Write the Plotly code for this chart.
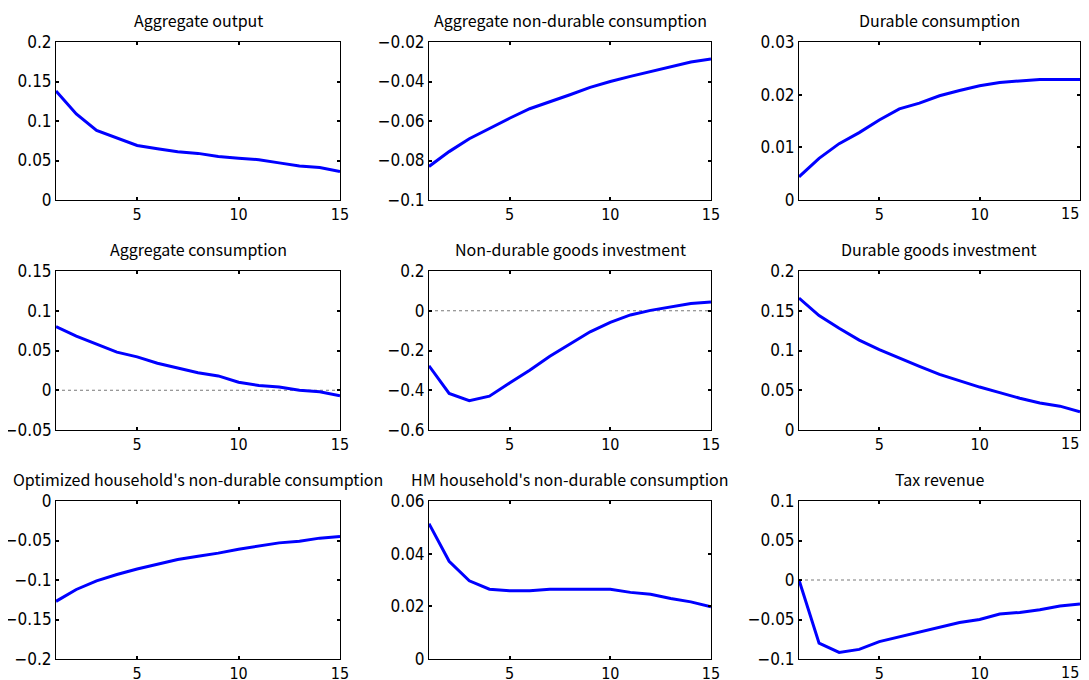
import plotly.graph_objects as go

periods = list(range(1, 16))

titles = [
    "Aggregate output",
    "Aggregate non-durable consumption",
    "Durable consumption",
    "Aggregate consumption",
    "Non-durable goods investment",
    "Durable goods investment",
    "Optimized household's non-durable consumption",
    "HM household's non-durable consumption",
    "Tax revenue",
]

aggregate_output = [0.138, 0.109, 0.088, 0.078, 0.069, 0.065, 0.061, 0.059, 0.055, 0.053, 0.051, 0.047, 0.043, 0.041, 0.036]
agg_nondurable_cons = [-0.083, -0.0755, -0.069, -0.0636, -0.0586, -0.0538, -0.0504, -0.0467, -0.043, -0.040, -0.0374, -0.0349, -0.0327, -0.0301, -0.0286]
durable_cons = [0.0044, 0.0079, 0.0107, 0.0128, 0.0152, 0.0173, 0.0184, 0.0198, 0.0208, 0.0217, 0.0223, 0.0226, 0.0229, 0.0229, 0.0229]
aggregate_cons = [0.080, 0.068, 0.058, 0.048, 0.042, 0.034, 0.028, 0.022, 0.018, 0.010, 0.006, 0.004, 0.0, -0.002, -0.007]
nondurable_inv = [-0.277, -0.416, -0.453, -0.430, -0.364, -0.299, -0.229, -0.166, -0.106, -0.058, -0.021, 0.002, 0.019, 0.036, 0.044]
durable_inv = [0.166, 0.144, 0.128, 0.113, 0.101, 0.090, 0.080, 0.070, 0.062, 0.054, 0.047, 0.040, 0.034, 0.030, 0.023]
opt_hh_nondurable = [-0.127, -0.112, -0.101, -0.093, -0.086, -0.080, -0.074, -0.070, -0.066, -0.061, -0.057, -0.053, -0.051, -0.047, -0.045]
hm_hh_nondurable = [0.0514, 0.0371, 0.0297, 0.0265, 0.0259, 0.0259, 0.0265, 0.0265, 0.0265, 0.0265, 0.0253, 0.0246, 0.0230, 0.0217, 0.0198]
tax_revenue = [0.0, -0.080, -0.0916, -0.0878, -0.078, -0.0718, -0.066, -0.060, -0.0537, -0.050, -0.043, -0.041, -0.0377, -0.033, -0.0305]

series = [aggregate_output, agg_nondurable_cons, durable_cons, aggregate_cons, nondurable_inv,
          durable_inv, opt_hh_nondurable, hm_hh_nondurable, tax_revenue]

y_ranges = [[0, 0.2], [-0.1, -0.02], [0, 0.03], [-0.05, 0.15], [-0.6, 0.2],
            [0, 0.2], [-0.2, 0], [0, 0.06], [-0.1, 0.1]]
y_dticks = [0.05, 0.02, 0.01, 0.05, 0.2, 0.05, 0.05, 0.02, 0.05]
zero_line = [False, False, False, True, True, False, False, False, True]
x_ticks = [5, 10, 15]
x_tick_text = ["5", "10", "15"]

# page body margin offsets the figure by 8 px
PAGE_OFF = 8
W, H = 1089, 680 - PAGE_OFF
# panel boxes in window pixels (left, right) and (top, bottom)
col_px = [(56, 340), (429, 711), (799, 1080)]
row_px = [(42, 200), (271, 430), (501, 659)]

TICK_FONT = "Liberation Sans Narrow, DejaVu Sans Condensed, Noto Sans CJK JP"
TITLE_FONT = "Noto Sans CJK JP"
fig = go.Figure()

for i in range(9):
    r, c = divmod(i, 3)
    n = i + 1
    xa = "xaxis" if n == 1 else f"xaxis{n}"
    ya = "yaxis" if n == 1 else f"yaxis{n}"
    xr = "x" if n == 1 else f"x{n}"
    yr = "y" if n == 1 else f"y{n}"
    x0, x1 = col_px[c]
    t0, t1 = row_px[r]
    dom_x = [(x0 - PAGE_OFF) / W, (x1 - PAGE_OFF) / W]
    dom_y = [1 - (t1 - PAGE_OFF) / H, 1 - (t0 - PAGE_OFF) / H]
    common = dict(showgrid=False, zeroline=False, showline=True, linecolor="black", linewidth=1,
                  mirror="ticks", ticks="inside", ticklen=3, tickcolor="black", tickwidth=2,
                  automargin=False, ticklabeloverflow="allow")
    # the right-most column's last label sits at the window edge: draw it right-aligned
    last_col = (c == 2)
    ticktext = x_tick_text[:-1] + [""] if last_col else x_tick_text
    fig.layout[xa] = dict(domain=dom_x, anchor=yr, range=[1, 15], tickvals=x_ticks,
                          ticktext=ticktext,
                          tickfont=dict(family=TICK_FONT, size=16, color="black"), **common)
    fig.layout[ya] = dict(domain=dom_y, anchor=xr, range=y_ranges[i], dtick=y_dticks[i],
                          tick0=0, tickfont=dict(family=TICK_FONT, size=17, color="black"),
                          **common)
    if last_col:
        fig.add_annotation(text=x_tick_text[-1], xref=xr, yref=f"{yr} domain",
                           x=x_ticks[-1], y=0, xanchor="right", yanchor="top",
                           xshift=1, yshift=-2, showarrow=False,
                           font=dict(family=TICK_FONT, size=16, color="black"))
    if zero_line[i]:
        fig.add_shape(type="line", xref=f"{xr} domain", yref=yr, x0=0, x1=1, y0=0, y1=0,
                      line=dict(color="#555555", width=0.8, dash="dot"), layer="below")
    fig.add_trace(go.Scatter(x=periods, y=series[i], mode="lines", xaxis=xr, yaxis=yr,
                             line=dict(color="#0000FF", width=3), showlegend=False,
                             cliponaxis=True))
    fig.add_annotation(text=titles[i], xref="paper", yref="paper",
                       x=(dom_x[0] + dom_x[1]) / 2, y=dom_y[1] + 8 / H,
                       xanchor="center", yanchor="bottom", showarrow=False,
                       font=dict(family=TITLE_FONT, size=16, color="black"))

fig.update_layout(width=W, height=H, margin=dict(l=0, r=0, t=0, b=0, autoexpand=False),
                  paper_bgcolor="white", plot_bgcolor="white")

fig.write_html("out.html")
